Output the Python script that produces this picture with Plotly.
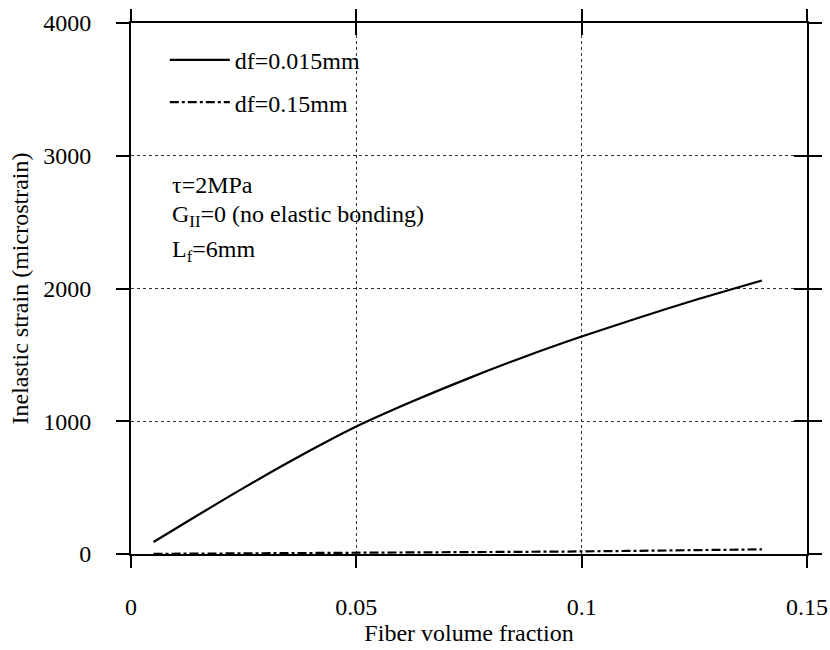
import plotly.graph_objects as go

# Data
vf_fine = [0.005, 0.0125, 0.025, 0.0375, 0.05, 0.0625, 0.075, 0.0875, 0.1, 0.1125, 0.125, 0.14]
strain_fine = [90, 245, 498, 738, 960, 1150, 1325, 1488, 1638, 1778, 1911, 2060]

vf_coarse = [0.005, 0.02, 0.035, 0.05, 0.065, 0.08, 0.095, 0.11, 0.125, 0.14]
strain_coarse = [1, 3, 5, 8, 11, 14, 18, 23, 29, 35]

x_ticks = [0, 0.05, 0.1, 0.15]
x_ticklabels = ["0", "0.05", "0.1", "0.15"]
y_ticks = [0, 1000, 2000, 3000, 4000]
y_ticklabels = ["0", "1000", "2000", "3000", "4000"]

FONT = "Liberation Serif"
FS = 24

fig = go.Figure()
fig.add_trace(go.Scatter(x=vf_fine, y=strain_fine, mode="lines", name="df=0.015mm",
                         line=dict(color="black", width=2.2, shape="spline", smoothing=0.8),
                         legendgroup="a"))
fig.add_trace(go.Scatter(x=vf_coarse, y=strain_coarse, mode="lines", name="df=0.15mm",
                         line=dict(color="black", width=2.2, dash="dashdot"),
                         legendgroup="b"))
# helper invisible trace for inner tick axes
fig.add_trace(go.Scatter(x=[0], y=[0], xaxis="x2", yaxis="y2", mode="markers",
                         marker=dict(opacity=0), showlegend=False, hoverinfo="skip"))

axis_common = dict(showline=True, linecolor="black", linewidth=2,
                   tickcolor="black", tickwidth=2,
                   gridcolor="#333333", griddash="dot", gridwidth=1,
                   zeroline=False, automargin=False,
                   tickfont=dict(family=FONT, size=FS, color="black"))

fig.update_layout(
    width=830, height=650,
    margin=dict(l=131, r=23, t=23, b=96),
    paper_bgcolor="white", plot_bgcolor="white",
    font=dict(family=FONT, color="black"),
    xaxis=dict(range=[0, 0.15], tickvals=x_ticks, ticktext=x_ticklabels,
               ticks="outside", ticklen=12, mirror="allticks", showgrid=True,
               ticklabelstandoff=18,
               title=dict(text="Fiber volume fraction", font=dict(family=FONT, size=FS), standoff=3),
               **axis_common),
    yaxis=dict(range=[0, 4000], tickvals=y_ticks, ticktext=y_ticklabels,
               ticks="outside", ticklen=13, mirror="allticks", showgrid=True,
               ticklabelstandoff=20,
               title=dict(text="Inelastic strain (microstrain)", font=dict(family=FONT, size=FS), standoff=8),
               **axis_common),
    xaxis2=dict(range=[0, 0.15], tickvals=x_ticks, overlaying="x", side="top",
                ticks="inside", ticklen=12, tickwidth=2, tickcolor="black", automargin=False,
                showticklabels=False, showgrid=False, zeroline=False, showline=False),
    yaxis2=dict(range=[0, 4000], tickvals=y_ticks, overlaying="y", side="right",
                ticks="inside", ticklen=13, tickwidth=2, tickcolor="black", automargin=False,
                showticklabels=False, showgrid=False, zeroline=False, showline=False),
    legend=dict(x=0.05, y=0.972, xanchor="left", yanchor="top",
                bgcolor="rgba(0,0,0,0)", borderwidth=0,
                font=dict(family=FONT, size=FS, color="black"),
                itemwidth=60, traceorder="grouped", tracegroupgap=8),
    showlegend=True,
)

ann_font = dict(family=FONT, size=FS, color="black")
fig.add_annotation(x=0.058, y=0.695, xref="paper", yref="paper", xanchor="left", yanchor="middle",
                   text="τ=2MPa", showarrow=False, font=ann_font)
fig.add_annotation(x=0.058, y=0.636, xref="paper", yref="paper", xanchor="left", yanchor="middle",
                   text="G<sub>II</sub>=0 (no elastic bonding)", showarrow=False, font=ann_font)
fig.add_annotation(x=0.058, y=0.57, xref="paper", yref="paper", xanchor="left", yanchor="middle",
                   text="L<sub>f</sub>=6mm", showarrow=False, font=ann_font)

fig.write_html("out.html")
